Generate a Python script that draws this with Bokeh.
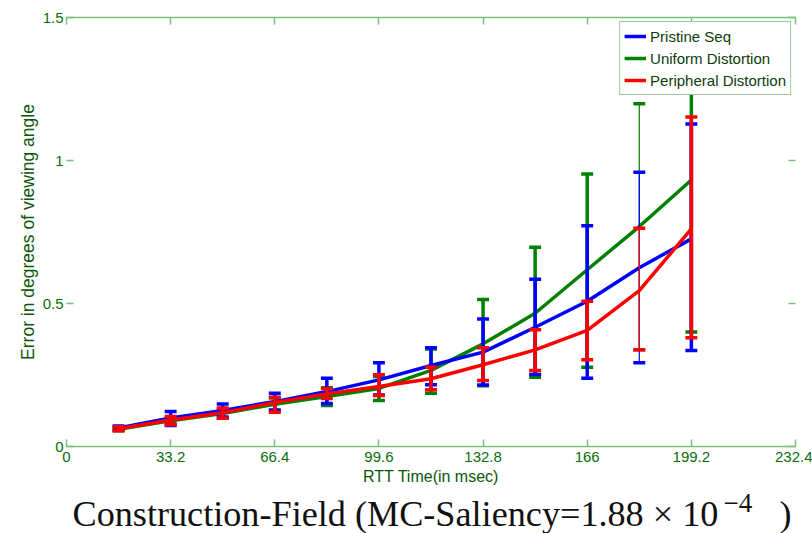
from bokeh.plotting import figure
from bokeh.layouts import column
from bokeh.models import (ColumnDataSource, Legend, LegendItem, LinearAxis,
                          FixedTicker, Label, Range1d)
from bokeh.embed import file_html
from bokeh.resources import INLINE

# Round-trip time (msec) at which the viewing-angle error was measured
rtt = [16.6, 33.2, 49.8, 66.4, 83.0, 99.6, 116.2, 132.8, 149.4, 166.0, 182.6, 199.2]

# Mean error and error-bar bounds (degrees of viewing angle)
pristine_mean = [0.065, 0.100, 0.126, 0.157, 0.192, 0.233, 0.283, 0.330, 0.417, 0.508, 0.625, 0.726]
pristine_lo   = [0.058, 0.073, 0.103, 0.128, 0.150, 0.180, 0.216, 0.215, 0.252, 0.239, 0.293, 0.336]
pristine_hi   = [0.072, 0.122, 0.149, 0.186, 0.239, 0.293, 0.345, 0.446, 0.585, 0.772, 0.959, 1.128]

uniform_mean = [0.060, 0.090, 0.115, 0.148, 0.175, 0.203, 0.266, 0.359, 0.466, 0.618, 0.769, 0.932]
uniform_lo   = [0.055, 0.080, 0.100, 0.125, 0.143, 0.161, 0.186, 0.212, 0.242, 0.277, 0.338, 0.400]
uniform_hi   = [0.066, 0.100, 0.130, 0.170, 0.205, 0.245, 0.341, 0.514, 0.697, 0.953, 1.198, 1.400]

peripheral_mean = [0.062, 0.093, 0.118, 0.154, 0.184, 0.210, 0.237, 0.286, 0.338, 0.406, 0.545, 0.761]
peripheral_lo   = [0.055, 0.076, 0.099, 0.120, 0.168, 0.178, 0.198, 0.231, 0.266, 0.303, 0.338, 0.380]
peripheral_hi   = [0.069, 0.105, 0.135, 0.172, 0.203, 0.251, 0.277, 0.345, 0.408, 0.508, 0.763, 1.152]

series_names = ["Pristine Seq", "Uniform Distortion", "Peripheral Distortion"]
x_ticks = [0, 33.2, 66.4, 99.6, 132.8, 166, 199.2, 232.4]
y_ticks = [0, 0.5, 1, 1.5]

AXIS_GREEN = "#74c274"
TEXT_GREEN = "#0a6e0a"
LABEL_GREEN = "#0b560b"

BORDER_L, BORDER_R = 66, 17

p = figure(width=812, height=488, output_backend="svg", toolbar_location=None,
           x_range=Range1d(0, 232.4), y_range=Range1d(0, 1.5),
           min_border_left=BORDER_L, min_border_right=BORDER_R, min_border_top=17,
           min_border_bottom=42, x_axis_location=None, y_axis_location=None)
p.grid.visible = False
p.outline_line_color = None
p.background_fill_color = "white"
p.border_fill_color = "white"

def style_axis(ax, labels=True, line=True):
    ax.axis_line_color = AXIS_GREEN if line else None
    ax.axis_line_width = 1.5
    ax.major_tick_line_color = AXIS_GREEN
    ax.major_tick_line_width = 1.5
    ax.major_tick_in = 7
    ax.major_tick_out = 0
    ax.minor_tick_line_color = None
    ax.major_label_text_color = TEXT_GREEN
    ax.major_label_text_font = "Liberation Sans"
    ax.major_label_text_font_size = "15px"
    if not labels:
        ax.major_label_text_alpha = 0

xb = LinearAxis(ticker=FixedTicker(ticks=x_ticks), axis_label="RTT Time(in msec)")
style_axis(xb)
xb.major_label_overrides = {0: "0", 33.2: "33.2", 66.4: "66.4", 99.6: "99.6",
                            132.8: "132.8", 166: "166", 199.2: "199.2", 232.4: "232.4"}
xb.major_label_standoff = 5
xb.axis_label_text_font = "Liberation Sans"
xb.axis_label_text_font_size = "16px"
xb.axis_label_text_font_style = "normal"
xb.axis_label_text_color = LABEL_GREEN
xb.axis_label_standoff = 3
p.add_layout(xb, "below")

xt = LinearAxis(ticker=FixedTicker(ticks=x_ticks))
style_axis(xt, labels=False)
p.add_layout(xt, "above")

yl = LinearAxis(ticker=FixedTicker(ticks=y_ticks),
                axis_label="Error in degrees of viewing angle")
style_axis(yl, line=False)
yl.major_label_overrides = {0: "0", 0.5: "0.5", 1: "1", 1.5: "1.5"}
yl.major_label_standoff = 3
yl.axis_label_text_font = "Liberation Sans"
yl.axis_label_text_font_size = "17.5px"
yl.axis_label_text_font_style = "normal"
yl.axis_label_text_color = LABEL_GREEN
yl.axis_label_standoff = 2
p.add_layout(yl, "left")

yr = LinearAxis(ticker=FixedTicker(ticks=y_ticks))
style_axis(yr, labels=False, line=False)
p.add_layout(yr, "right")

series = [
    (series_names[0], pristine_mean, pristine_lo, pristine_hi, "#0000ff"),
    (series_names[1], uniform_mean, uniform_lo, uniform_hi, "#008000"),
    (series_names[2], peripheral_mean, peripheral_lo, peripheral_hi, "#ff0000"),
]

cap_half = 1.9   # half width of error-bar caps, in msec
line_items = {}
draw_order = [1, 0, 2]
for idx in draw_order:
    name, mean, lo, hi, color = series[idx]
    src = ColumnDataSource(dict(
        x=rtt, mean=mean, lo=lo, hi=hi,
        xl=[v - cap_half for v in rtt], xr=[v + cap_half for v in rtt],
        w=[1.2 if v == 182.6 else 3.5 for v in rtt],
    ))
    p.segment(x0="x", y0="lo", x1="x", y1="hi", source=src,
              line_color=color, line_width="w")
    p.segment(x0="xl", y0="hi", x1="xr", y1="hi", source=src,
              line_color=color, line_width=3.5)
    p.segment(x0="xl", y0="lo", x1="xr", y1="lo", source=src,
              line_color=color, line_width=3.5)
    r = p.line(x="x", y="mean", source=src, line_color=color, line_width=3.5)
    line_items[idx] = r

legend = Legend(items=[LegendItem(label=series[i][0], renderers=[line_items[i]])
                       for i in range(3)],
                location="top_right")
legend.border_line_color = "#3a9a3a"
legend.border_line_width = 1.2
legend.background_fill_color = "white"
legend.background_fill_alpha = 1
legend.label_text_font = "Liberation Sans"
legend.label_text_font_size = "15px"
legend.label_text_color = "#0b3d0b"
legend.glyph_width = 22
legend.glyph_height = 20
legend.label_height = 20
legend.spacing = 2
legend.padding = 4
legend.margin = 4
legend.label_standoff = 4
p.add_layout(legend)

# Caption strip below the chart; x is in page pixels, y in pixels up from its bottom
CAP_H = 45
cap = figure(width=812, height=CAP_H, output_backend="svg", toolbar_location=None,
             x_range=Range1d(BORDER_L, 812 - BORDER_R), y_range=Range1d(0, CAP_H),
             min_border_left=BORDER_L, min_border_right=BORDER_R,
             min_border_top=0, min_border_bottom=0,
             x_axis_location=None, y_axis_location=None)
cap.grid.visible = False
cap.outline_line_color = None
cap.background_fill_color = "white"
cap.border_fill_color = "white"

caption_font = "Liberation Serif"
cap.add_layout(Label(x=72, y=0, text="Construction-Field (MC-Saliency=1.88 \u00d7 10",
                     text_font=caption_font, text_font_size="36.2px", text_color="#111111",
                     text_baseline="bottom", text_align="left"))
cap.add_layout(Label(x=723, y=22, text="\u22124",
                     text_font=caption_font, text_font_size="27px", text_color="#111111",
                     text_baseline="bottom", text_align="left"))
cap.add_layout(Label(x=779, y=0, text=")",
                     text_font=caption_font, text_font_size="36px", text_color="#111111",
                     text_baseline="bottom", text_align="left"))

open("out.html", "w").write(file_html(column(p, cap), INLINE))
